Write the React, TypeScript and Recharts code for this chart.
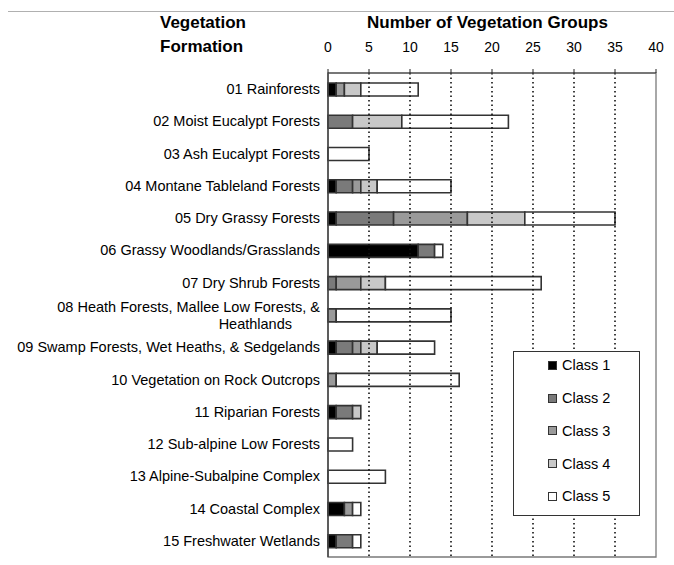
import React from 'react';
import { BarChart, Bar, XAxis, YAxis, ReferenceLine, ReferenceArea, Legend } from 'recharts';

const categories = [
  '01 Rainforests',
  '02 Moist Eucalypt Forests',
  '03 Ash Eucalypt Forests',
  '04 Montane Tableland Forests',
  '05 Dry Grassy Forests',
  '06 Grassy Woodlands/Grasslands',
  '07 Dry Shrub Forests',
  '08 Heath Forests, Mallee Low Forests, &|Heathlands',
  '09 Swamp Forests, Wet Heaths, & Sedgelands',
  '10 Vegetation on Rock Outcrops',
  '11 Riparian Forests',
  '12 Sub-alpine Low Forests',
  '13 Alpine-Subalpine Complex',
  '14 Coastal Complex',
  '15 Freshwater Wetlands',
];
const class1 = [1, 0, 0, 1, 1, 11, 0, 0, 1, 0, 1, 0, 0, 2, 1];
const class2 = [0, 3, 0, 2, 7, 2, 1, 0, 2, 0, 2, 0, 0, 0, 2];
const class3 = [1, 0, 0, 1, 9, 0, 3, 1, 1, 1, 0, 0, 0, 1, 0];
const class4 = [2, 6, 0, 2, 7, 0, 3, 0, 2, 0, 1, 0, 0, 0, 0];
const class5 = [7, 13, 5, 9, 11, 1, 19, 14, 7, 15, 0, 3, 7, 1, 1];
const xTicks = [0, 5, 10, 15, 20, 25, 30, 35, 40];
const gridTicks = [5, 10, 15, 20, 25, 30, 35];
const seriesNames = ['Class 1', 'Class 2', 'Class 3', 'Class 4', 'Class 5'];
const seriesColors = ['#000000', '#7a7a7a', '#9a9a9a', '#c8c8c8', '#ffffff'];

const data = categories.map((name, i) => ({
  name,
  c1: class1[i],
  c2: class2[i],
  c3: class3[i],
  c4: class4[i],
  c5: class5[i],
}));
const keys = ['c1', 'c2', 'c3', 'c4', 'c5'];

const FONT = '"Liberation Sans", Arial, sans-serif';

const XTick = (props: any) => {
  const { x, payload } = props;
  return (
    <text x={x} y={52} textAnchor="middle" fontFamily={FONT} fontSize={14} fill="#000">
      {payload.value}
    </text>
  );
};

const YTick = (props: any) => {
  const { y, payload } = props;
  const parts = String(payload.value).split('|');
  if (parts.length > 1) {
    return (
      <g>
        <text x={320} y={y - 3} textAnchor="end" fontFamily={FONT} fontSize={14.5} fill="#000">
          {parts[0]}
        </text>
        <text x={292} y={y + 14} textAnchor="end" fontFamily={FONT} fontSize={14.5} fill="#000">
          {parts[1]}
        </text>
      </g>
    );
  }
  return (
    <text x={320} y={y + 5} textAnchor="end" fontFamily={FONT} fontSize={14.5} fill="#000">
      {parts[0]}
    </text>
  );
};

const LegendBox = (props: any) => {
  const payload = props.payload || [];
  return (
    <div
      style={{
        position: 'absolute',
        left: 0,
        top: 0,
        width: 127,
        height: 165,
        border: '1.5px solid #333',
        background: '#fff',
        boxSizing: 'border-box',
        fontFamily: FONT,
      }}
    >
      <div style={{ position: 'relative', top: -3 }}>
        {payload.map((p: any, i: number) => (
          <div key={i} style={{ display: 'flex', alignItems: 'center', height: 32.75, paddingLeft: 34 }}>
            <span
              style={{
                display: 'inline-block',
                width: 7,
                height: 7,
                background: p.color,
                border: '1.3px solid #333',
                marginRight: 5,
              }}
            />
            <span style={{ fontSize: 14.5, color: '#000' }}>{p.value}</span>
          </div>
        ))}
      </div>
    </div>
  );
};

export default function App() {
  return (
    <div style={{ position: 'absolute', left: 0, top: 0, width: 674, height: 565, background: '#fff' }}>
      <div style={{ position: 'absolute', left: 8, right: 0, top: 11, borderTop: '1px solid #b0b0b0' }} />
      <div style={{ position: 'absolute', left: 160, top: 13, fontFamily: FONT, fontWeight: 'bold', fontSize: 17, lineHeight: '20px' }}>
        Vegetation
      </div>
      <div style={{ position: 'absolute', left: 160, top: 37, fontFamily: FONT, fontWeight: 'bold', fontSize: 17, lineHeight: '20px' }}>
        Formation
      </div>
      <div style={{ position: 'absolute', left: 367, top: 13, fontFamily: FONT, fontWeight: 'bold', fontSize: 17, lineHeight: '20px' }}>
        Number of Vegetation Groups
      </div>
      <BarChart
        width={674}
        height={565}
        data={data}
        layout="vertical"
        margin={{ top: 0, right: 18, bottom: 8, left: 0 }}
        barSize={13}
      >
        <ReferenceArea x1={0} x2={40} fill="none" stroke="#7a7a7a" strokeWidth={1.3} />
        {gridTicks.map((t) => (
          <ReferenceLine key={t} x={t} stroke="#111" strokeWidth={1.6} strokeDasharray="1.5 3" />
        ))}
        <XAxis
          type="number"
          orientation="top"
          domain={[0, 40]}
          ticks={xTicks}
          height={73}
          tick={<XTick />}
          tickSize={4}
          axisLine={{ stroke: '#555', strokeWidth: 1.2 }}
          tickLine={{ stroke: '#222' }}
          interval={0}
        />
        <YAxis
          type="category"
          dataKey="name"
          width={328}
          tick={<YTick />}
          tickLine={false}
          axisLine={{ stroke: '#444', strokeWidth: 1.5 }}
          interval={0}
        />
        {keys.map((k, i) => (
          <Bar
            key={k}
            dataKey={k}
            name={seriesNames[i]}
            stackId="a"
            fill={seriesColors[i]}
            stroke="#333"
            strokeWidth={1.6}
            isAnimationActive={false}
          />
        ))}
        <Legend
          content={<LegendBox />}
          wrapperStyle={{ position: 'absolute', left: 513, top: 351, width: 127, height: 0, overflow: 'visible' }}
        />
      </BarChart>
    </div>
  );
}
